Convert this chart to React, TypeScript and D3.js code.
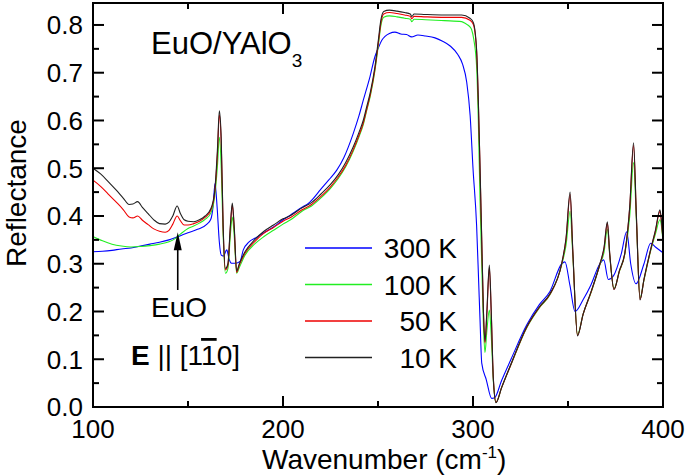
import React from "react";
import * as d3 from "d3";

// ---------- data ----------
const xTicks = [100, 200, 300, 400];
const yTicks = [0.0, 0.1, 0.2, 0.3, 0.4, 0.5, 0.6, 0.7, 0.8];
const xMinor = [150, 250, 350];
const yMinor = [0.05, 0.15, 0.25, 0.35, 0.45, 0.55, 0.65, 0.75];

const wnLow = [100,104,108,112,116,119,121,123.5,126,129,132,135,138,140,142,144.3,146,148,150,153,156,159,162,164,165.5,166.5,167.5,168.5,169.7,171,172.3,173.3,174.3,175.6,177,180,185,190,195,200,204,210,215,220,225,229,233,237,240,242.3,244,246,248.4,250.2,251.5,253,256,260,264,267,267.8,269,275,285,294,298.4,300.2,301.9,302.8,303.7,304.6,305.5,306.3,307.3,308.6,309.6,310.7,312.1,315,320,328.3,335,340.5,346.7,349,351.1,352.5,355,358,362,366.8,369,370.7,372,374.2,377,380,382.5,384.5,386,387.9,390,393.5,396,398.4,399.3,400];

const r10K = [0.500,0.488,0.472,0.455,0.437,0.424,0.425,0.430,0.418,0.405,0.392,0.384,0.383,0.387,0.400,0.421,0.405,0.392,0.389,0.388,0.392,0.400,0.415,0.450,0.540,0.620,0.560,0.380,0.290,0.300,0.380,0.427,0.380,0.285,0.300,0.325,0.350,0.368,0.381,0.394,0.401,0.417,0.428,0.446,0.466,0.486,0.512,0.545,0.575,0.601,0.628,0.660,0.713,0.769,0.810,0.828,0.831,0.829,0.826,0.823,0.818,0.823,0.822,0.821,0.821,0.814,0.805,0.748,0.643,0.503,0.350,0.200,0.137,0.200,0.297,0.200,0.060,0.009,0.040,0.090,0.168,0.210,0.237,0.301,0.355,0.450,0.330,0.149,0.195,0.240,0.300,0.335,0.388,0.320,0.246,0.285,0.325,0.420,0.553,0.400,0.224,0.268,0.330,0.370,0.413,0.385,0.350];

const r50K = [0.475,0.462,0.446,0.430,0.413,0.398,0.396,0.400,0.391,0.382,0.373,0.368,0.366,0.370,0.383,0.400,0.390,0.381,0.381,0.384,0.389,0.397,0.412,0.446,0.530,0.612,0.552,0.375,0.287,0.297,0.376,0.423,0.376,0.282,0.297,0.322,0.346,0.364,0.376,0.389,0.397,0.413,0.424,0.441,0.461,0.481,0.506,0.539,0.569,0.595,0.622,0.655,0.708,0.763,0.804,0.823,0.826,0.824,0.821,0.818,0.813,0.818,0.817,0.816,0.816,0.810,0.801,0.745,0.640,0.500,0.348,0.198,0.134,0.195,0.292,0.198,0.060,0.010,0.040,0.089,0.167,0.209,0.236,0.300,0.352,0.445,0.328,0.150,0.195,0.239,0.299,0.333,0.385,0.318,0.246,0.284,0.324,0.418,0.548,0.398,0.225,0.267,0.329,0.368,0.410,0.383,0.349];

const wn100K = [100,105,110,115,120,125,130,135,140,143,146,150,153,156,159,162,164,165.5,166.5,167.5,168.5,169.7,171,172.3,173.3,174.3,175.6,177,180,185,190,195,200,204,210,215,220,225,229,233,237,240,242.3,244,246,248.4,250.2,251.5,253,256,260,264,267,267.8,269,275,285,294,296,298.4,299.3,300.4,301.9,302.8,303.7,304.6,305.5,306.3,307.3,308.6,309.6,310.7,312.1,315,320,328.3,335,340.5,346.7,349,351.1,352.5,355,358,362,366.8,369,370.7,372,374.2,377,380,382.5,384.5,386,387.9,390,393.5,396,398.4,399.3,400];
const r100K = [0.357,0.348,0.341,0.337,0.335,0.336,0.338,0.341,0.346,0.352,0.362,0.374,0.379,0.385,0.393,0.406,0.440,0.505,0.565,0.500,0.360,0.280,0.290,0.360,0.398,0.360,0.280,0.292,0.318,0.341,0.357,0.370,0.383,0.392,0.410,0.421,0.438,0.458,0.478,0.503,0.536,0.566,0.592,0.620,0.652,0.705,0.758,0.798,0.816,0.819,0.817,0.814,0.812,0.807,0.812,0.811,0.809,0.807,0.803,0.796,0.790,0.770,0.713,0.600,0.433,0.300,0.170,0.114,0.160,0.203,0.150,0.055,0.010,0.040,0.089,0.166,0.208,0.235,0.298,0.340,0.410,0.320,0.152,0.195,0.238,0.298,0.325,0.372,0.315,0.248,0.283,0.322,0.400,0.512,0.390,0.228,0.266,0.327,0.362,0.392,0.375,0.345];

const wn300K = [100,105,110,115,120,125,130,135,140,145,150,155,160,162,163.2,164.2,165.3,166.5,167.5,168.6,170.4,171.6,173,175,177.4,179.1,182,186,190,195,200,204,208,210.7,213,216,219.5,224,228.3,232,237,240,242.3,245.8,248.4,250.2,252,253.7,256,258.9,262,265,267.7,271,275,280,284,288,292,294.5,296.7,298.5,300,301.9,303,303.7,304.6,307,309.8,311.5,315,320,328.3,335,340.5,346.7,348.4,351,353.7,358,362,366.8,368.8,371.2,374,378,380.9,383,385.8,390,393.5,396,400];
const r300K = [0.325,0.326,0.328,0.331,0.333,0.337,0.341,0.345,0.350,0.357,0.365,0.372,0.383,0.393,0.420,0.468,0.420,0.345,0.318,0.316,0.329,0.310,0.301,0.301,0.305,0.329,0.345,0.355,0.365,0.377,0.392,0.402,0.413,0.420,0.425,0.437,0.454,0.475,0.496,0.522,0.573,0.610,0.643,0.692,0.734,0.752,0.768,0.776,0.782,0.785,0.781,0.780,0.775,0.779,0.777,0.773,0.766,0.756,0.738,0.718,0.680,0.610,0.500,0.380,0.260,0.182,0.092,0.057,0.018,0.020,0.055,0.100,0.172,0.215,0.242,0.300,0.304,0.255,0.200,0.225,0.255,0.300,0.308,0.267,0.275,0.320,0.367,0.300,0.258,0.300,0.343,0.335,0.323];

const seriesLabels = ["300 K", "100 K", "50 K", "10 K"];
const seriesColors = ["#0000ff", "#22ee22", "#ee0000", "#222222"];

// annotation: EuO phonon position
const euoArrow = { wn: 144.6, rTip: 0.366 };

// ---------- layout ----------
const W = 685, H = 476;
const L = 93, R = 663, T = 3, B = 407;
const FONT = "'Liberation Sans', Arial, Helvetica, sans-serif";

export default function App() {
  const x = d3.scaleLinear().domain([100, 400]).range([L, R]);
  const y = d3.scaleLinear().domain([0, 0.846]).range([B, T]);
  const line = d3
    .line<[number, number]>()
    .x((d) => x(d[0]))
    .y((d) => y(d[1]))
    .curve(d3.curveMonotoneX);

  const zip = (a: number[], b: number[]) => a.map((v, i) => [v, b[i]] as [number, number]);
  const series = [
    zip(wn300K, r300K),
    zip(wn100K, r100K),
    zip(wnLow, r50K),
    zip(wnLow, r10K),
  ];

  const tipX = x(euoArrow.wn);
  const tipY = y(euoArrow.rTip);

  const legendY = [248, 284.5, 321, 357.5];

  return (
    <svg
      width={W}
      height={H}
      style={{ position: "absolute", left: 0, top: 0, background: "#fff" }}
      fontFamily={FONT}
    >
      <defs>
        <clipPath id="plotClip">
          <rect x={L} y={T} width={R - L} height={B - T} />
        </clipPath>
      </defs>
      <rect x={0} y={0} width={W} height={H} fill="#fff" />

      <g clipPath="url(#plotClip)">
        {series.map((s, i) => (
          <path
            key={i}
            d={line(s) || ""}
            fill="none"
            stroke={seriesColors[i]}
            strokeWidth={1.1}
            strokeLinejoin="round"
          />
        ))}
      </g>

      {/* frame */}
      <rect x={L} y={T} width={R - L} height={B - T} fill="none" stroke="#000" strokeWidth={2} />

      {/* x ticks */}
      {xTicks.map((t) => (
        <g key={"xt" + t}>
          <line x1={x(t)} x2={x(t)} y1={B} y2={B - 11} stroke="#000" strokeWidth={2} />
          <line x1={x(t)} x2={x(t)} y1={T} y2={T + 11} stroke="#000" strokeWidth={2} />
          <text x={x(t)} y={438} fontSize={26} textAnchor="middle" fill="#000">
            {t}
          </text>
        </g>
      ))}
      {xMinor.map((t) => (
        <g key={"xm" + t}>
          <line x1={x(t)} x2={x(t)} y1={B} y2={B - 6} stroke="#000" strokeWidth={2} />
          <line x1={x(t)} x2={x(t)} y1={T} y2={T + 6} stroke="#000" strokeWidth={2} />
        </g>
      ))}

      {/* y ticks */}
      {yTicks.map((t) => (
        <g key={"yt" + t}>
          <line x1={L} x2={L + 11} y1={y(t)} y2={y(t)} stroke="#000" strokeWidth={2} />
          <line x1={R} x2={R - 11} y1={y(t)} y2={y(t)} stroke="#000" strokeWidth={2} />
          <text x={83} y={y(t) + 9.3} fontSize={26} textAnchor="end" fill="#000">
            {t.toFixed(1)}
          </text>
        </g>
      ))}
      {yMinor.map((t) => (
        <g key={"ym" + t}>
          <line x1={L} x2={L + 6} y1={y(t)} y2={y(t)} stroke="#000" strokeWidth={2} />
          <line x1={R} x2={R - 6} y1={y(t)} y2={y(t)} stroke="#000" strokeWidth={2} />
        </g>
      ))}

      {/* axis titles */}
      <text x={262} y={469} fontSize={28} fill="#000">
        Wavenumber (cm
        <tspan fontSize={17} dy={-11}>-1</tspan>
        <tspan dy={11}>)</tspan>
      </text>
      <text
        transform={`translate(26, ${(T + B) / 2 - 12}) rotate(-90)`}
        fontSize={28}
        textAnchor="middle"
        fill="#000"
      >
        Reflectance
      </text>

      {/* sample label */}
      <text x={151} y={54} fontSize={31} fill="#000">
        EuO/YAlO
        <tspan fontSize={19} dy={13}>3</tspan>
      </text>

      {/* EuO arrow */}
      <line x1={tipX} x2={tipX} y1={290} y2={tipY + 14} stroke="#000" strokeWidth={1.6} />
      <path
        d={`M${tipX},${tipY} L${tipX - 4},${tipY + 18} L${tipX + 4},${tipY + 18} Z`}
        fill="#000"
      />
      <text x={151} y={317} fontSize={28} fill="#000">
        EuO
      </text>

      {/* polarization */}
      <text x={131} y={365} fontSize={28} fill="#000">
        <tspan fontWeight="bold">E</tspan>
        <tspan> || [1</tspan>
        <tspan style={{ textDecoration: "overline" }}>1</tspan>
        <tspan>0]</tspan>
      </text>

      {/* legend */}
      {seriesLabels.map((lab, i) => (
        <g key={lab}>
          <line
            x1={305}
            x2={372}
            y1={legendY[i]}
            y2={legendY[i]}
            stroke={seriesColors[i]}
            strokeWidth={1.3}
          />
          <text x={457} y={legendY[i] + 10} fontSize={28} textAnchor="end" fill="#000">
            {lab}
          </text>
        </g>
      ))}
    </svg>
  );
}
